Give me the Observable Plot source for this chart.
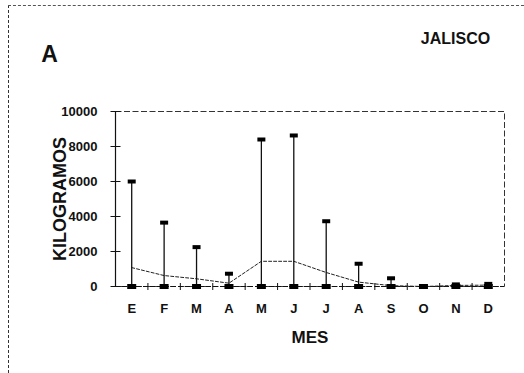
<!DOCTYPE html>
<html><head><meta charset="utf-8">
<script src="https://cdn.jsdelivr.net/npm/d3@7"></script>
<script src="https://cdn.jsdelivr.net/npm/@observablehq/plot@0.6"></script>
<style>
body{margin:0;background:#fff;}
#wrap{position:relative;width:524px;height:373px;overflow:hidden;background:#fff;}
#bl{position:absolute;left:8px;top:5px;bottom:0;border-left:1.3px dashed #333;}
#bt{position:absolute;left:8px;top:5px;width:516px;height:0;border-top:1px dashed #555;}
#wrap svg{position:absolute;left:0;top:0;}
</style></head><body>
<div id="wrap"><div id="bl"></div><div id="bt"></div></div>
<script>
const months = ["E","F","M","A","M","J","J","A","S","O","N","D"];
const maxKg  = [6000, 3650, 2250, 730, 8400, 8630, 3730, 1300, 470, 0, 120, 150];
const minKg  = [0, 0, 0, 0, 0, 0, 0, 0, 0, 0, 0, 0];
const meanKg = [1080, 625, 440, 190, 1440, 1440, 800, 250, 50, 0, 60, 80];
const yTicks = [0, 2000, 4000, 6000, 8000, 10000];
const panelLabel = "A";
const stateLabel = "JALISCO";
const yTitle = "KILOGRAMOS";
const xTitle = "MES";

const data = months.map((m, i) => ({i, m, max: maxKg[i], min: minKg[i], mean: meanKg[i]}));
const boundaries = d3.range(months.length - 1).map(i => i + 0.5);
const rectSym = (w, h) => ({draw(ctx) { ctx.rect(-w / 2, -h / 2, w, h); }});
const vTick = {draw(ctx) { ctx.moveTo(0, -3.5); ctx.lineTo(0, 3.5); }};
const hTick = {draw(ctx) { ctx.moveTo(-5, 0); ctx.lineTo(5, 0); }};

const chart = Plot.plot({
  width: 524, height: 373,
  marginLeft: 115, marginRight: 20, marginTop: 111, marginBottom: 87,
  style: {fontFamily: "'Liberation Sans', Arial, sans-serif", fontWeight: "bold", color: "#111", background: "transparent"},
  x: {type: "linear", domain: [-0.5, months.length - 0.5], label: null},
  y: {domain: [0, 10000], label: null},
  marks: [
    Plot.frame({stroke: "#333", strokeDasharray: "6,2.5"}),
    Plot.ruleX([-0.5], {stroke: "#111", strokeWidth: 1.2}),
    Plot.ruleY([0], {stroke: "#111", strokeDasharray: "5,2"}),
    Plot.axisY({ticks: yTicks, tickSize: 0, tickPadding: 18, tickFormat: d => String(d), fontSize: 13, fontWeight: "bold"}),
    Plot.dot(yTicks, {y: d => d, frameAnchor: "left", symbol: hTick, stroke: "#111", strokeWidth: 1, r: 3}),
    Plot.axisX({ticks: d3.range(months.length), tickSize: 0, tickPadding: 17, tickFormat: i => months[i], fontSize: 13, fontWeight: "bold"}),
    Plot.dot(boundaries, {x: d => d, frameAnchor: "bottom", symbol: vTick, stroke: "#111", strokeWidth: 1, r: 3}),
    Plot.line(data, {x: "i", y: "mean", stroke: "#222", strokeWidth: 1, strokeDasharray: "3,2"}),
    Plot.ruleX(data, {x: "i", y1: "min", y2: "max", stroke: "#111", strokeWidth: 1.3}),
    Plot.dot(data.filter(d => d.max > 0), {x: "i", y: "max", symbol: rectSym(8, 4), fill: "#000", stroke: null, r: 3}),
    Plot.dot(data, {x: "i", y: "min", symbol: rectSym(9, 5), fill: "#000", stroke: null, r: 3}),
    Plot.text([panelLabel], {text: d => d, frameAnchor: "top-left", textAnchor: "middle", lineAnchor: "middle", dx: -66, dy: -57, fontSize: 23, fontWeight: "bold"}),
    Plot.text([stateLabel], {text: d => d, frameAnchor: "top-left", textAnchor: "middle", lineAnchor: "middle", dx: 340, dy: -73, fontSize: 16, fontWeight: "bold"}),
    Plot.text([yTitle], {text: d => d, frameAnchor: "left", textAnchor: "middle", lineAnchor: "middle", dx: -55, rotate: -90, fontSize: 18, fontWeight: "bold"}),
    Plot.text([xTitle], {text: d => d, frameAnchor: "bottom", textAnchor: "middle", lineAnchor: "middle", dy: 51, fontSize: 17, fontWeight: "bold"})
  ]
});
document.getElementById("wrap").appendChild(chart);
</script>
</body></html>
